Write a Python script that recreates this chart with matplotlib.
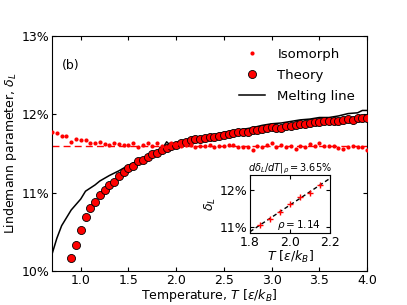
import numpy as np
import matplotlib
matplotlib.use("Agg")
import matplotlib.pyplot as plt
from matplotlib.ticker import FuncFormatter

# ---- data ----
iso_T = [round(0.70 + 0.05 * i, 2) for i in range(67)]
iso_val = [11.78, 11.76, 11.73, 11.72, 11.65, 11.68, 11.67, 11.67, 11.63, 11.63,
           11.65, 11.62, 11.61, 11.63, 11.62, 11.61, 11.61, 11.64, 11.59, 11.61,
           11.63, 11.60, 11.64, 11.60, 11.58, 11.63, 11.62, 11.60, 11.61, 11.61,
           11.59, 11.60, 11.60, 11.61, 11.59, 11.60, 11.60, 11.61, 11.61, 11.59,
           11.58, 11.58, 11.55, 11.60, 11.58, 11.61, 11.63, 11.59, 11.61, 11.58,
           11.60, 11.56, 11.60, 11.59, 11.62, 11.60, 11.63, 11.60, 11.60, 11.60,
           11.57, 11.56, 11.59, 11.60, 11.59, 11.59, 11.55]
iso_mean = 11.60

th_T = [round(0.90 + 0.05 * i, 2) for i in range(63)]
th_val = [10.17, 10.33, 10.52, 10.69, 10.80, 10.88, 10.97, 11.04, 11.10,
          11.14, 11.21, 11.27, 11.32, 11.34, 11.40, 11.42, 11.46, 11.49, 11.51,
          11.54, 11.57, 11.60, 11.61, 11.63, 11.65, 11.67, 11.68, 11.69, 11.70,
          11.71, 11.71, 11.73, 11.74, 11.75, 11.76, 11.77, 11.78, 11.78, 11.80,
          11.80, 11.81, 11.82, 11.84, 11.83, 11.83, 11.85, 11.85, 11.87, 11.88,
          11.88, 11.89, 11.90, 11.90, 11.91, 11.91, 11.92, 11.92, 11.93, 11.94,
          11.93, 11.95, 11.95, 11.96]

melt_T = [0.7, 0.75, 0.8, 0.85, 0.9, 0.95, 1.0, 1.05, 1.1, 1.15, 1.2, 1.3, 1.4,
          1.5, 1.6, 1.7, 1.8, 1.85, 1.9, 1.95, 2.0, 2.1, 2.2, 2.3, 2.4, 2.5, 2.6,
          2.7, 2.8, 2.9, 3.0, 3.1, 3.2, 3.3, 3.4, 3.5, 3.6, 3.7, 3.8, 3.9, 3.95, 4.0]
melt_val = [10.22, 10.42, 10.58, 10.68, 10.78, 10.85, 10.92, 11.02, 11.06, 11.10,
            11.15, 11.22, 11.28, 11.35, 11.41, 11.46, 11.51, 11.55, 11.65, 11.59,
            11.61, 11.65, 11.69, 11.72, 11.74, 11.77, 11.79, 11.81, 11.83, 11.86,
            11.88, 11.89, 11.91, 11.93, 11.94, 11.96, 11.96, 11.98, 12.01, 12.02,
            12.05, 12.05]

inset_T = [1.85, 1.90, 1.95, 2.00, 2.05, 2.10, 2.15]
inset_val = [11.05, 11.21, 11.41, 11.61, 11.80, 11.93, 12.14]

fs = 9
pct = FuncFormatter(lambda v, p: "%d%%" % round(v))

fig = plt.figure(figsize=(4.07, 3.05), dpi=100)
ax = fig.add_axes([0.128, 0.111, 0.774, 0.771])

ax.axhline(iso_mean, color="red", ls="--", lw=1.0, dashes=(5, 3))
ax.plot(melt_T, melt_val, color="black", lw=1.1, label="Melting line", zorder=2)
ax.plot(th_T, th_val, "o", color="red", mec="black", mew=0.6, ms=5.8,
        label="Theory", zorder=3)
ax.plot(iso_T, iso_val, "o", color="red", mew=0, ms=3, label="Isomorph", zorder=4)

ax.set_xlim(0.7, 4.0)
ax.set_ylim(10, 13)
ax.set_xticks([1.0, 1.5, 2.0, 2.5, 3.0, 3.5, 4.0])
ax.set_yticks([10, 11, 12, 13])
ax.yaxis.set_major_formatter(pct)
ax.tick_params(direction="in", top=True, right=True, labelsize=fs, length=3, pad=2)
ax.set_xlabel(r"Temperature, $T$ [$\varepsilon/k_B$]", fontsize=fs, labelpad=0)
ax.set_ylabel(r"Lindemann parameter, $\delta_L$", fontsize=fs, labelpad=2)
ax.text(0.03, 0.86, "(b)", transform=ax.transAxes, fontsize=fs)

h, l = ax.get_legend_handles_labels()
order = [2, 1, 0]
ax.legend([h[i] for i in order], [l[i] for i in order], loc="upper right",
          frameon=False, fontsize=9.5, borderaxespad=0.5, handlelength=2.0,
          labelspacing=0.6, handletextpad=0.9)

# ---- inset ----
ins = fig.add_axes([0.614, 0.236, 0.197, 0.190])
coef = np.polyfit(inset_T, inset_val, 1)
xs = np.array([1.8, 2.2])
ins.plot(xs, np.polyval(coef, xs), "k--", lw=1.0, dashes=(3, 2))
ins.plot(inset_T, inset_val, "+", color="red", ms=5, mew=1.0)
ins.set_xlim(1.8, 2.2)
ins.set_ylim(10.83, 12.41)
ins.set_xticks([1.8, 2.0, 2.2])
ins.set_yticks([11, 12])
ins.yaxis.set_major_formatter(pct)
ins.tick_params(direction="in", top=True, right=True, labelsize=fs, length=3, pad=2)
ins.set_xlabel(r"$T$ [$\varepsilon/k_B$]", fontsize=fs, labelpad=0)
ins.set_ylabel(r"$\delta_L$", fontsize=fs, labelpad=1)
ins.set_title(r"$d\delta_L/dT|_\rho = 3.65\%$", fontsize=7, pad=3)
ins.text(0.88, 0.08, r"$\rho = 1.14$", transform=ins.transAxes, ha="right",
         fontsize=7.5)

fig.savefig("out.png", dpi=100)
